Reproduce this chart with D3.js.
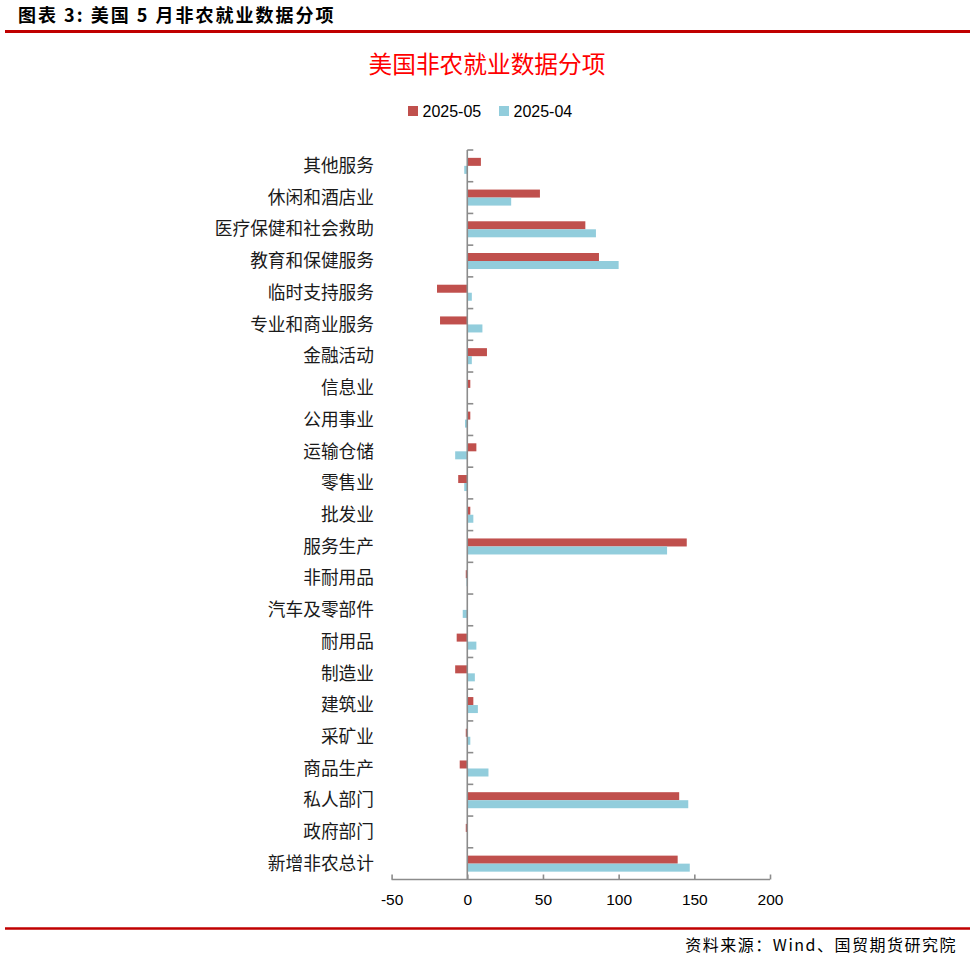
<!DOCTYPE html>
<html>
<head>
<meta charset="utf-8">
<script src="https://cdn.jsdelivr.net/npm/d3@7"></script>
<style>
  html, body { margin: 0; padding: 0; background: #fff; }
  svg { display: block; }
</style>
</head>
<body>
<svg id="chart" width="975" height="957"></svg>
<script>
const categories = ["其他服务","休闲和酒店业","医疗保健和社会救助","教育和保健服务","临时支持服务","专业和商业服务","金融活动","信息业","公用事业","运输仓储","零售业","批发业","服务生产","非耐用品","汽车及零部件","耐用品","制造业","建筑业","采矿业","商品生产","私人部门","政府部门","新增非农总计"];
const seriesNames = ["2025-05","2025-04"];
const may2025 = [9,48,78,87,-20,-18,13,2,2,6,-6,2,145,-1,0,-7,-8,4,-1,-5,140,-1,139];
const apr2025 = [-2,29,85,100,3,10,3,0,-1.5,-8,-2,4,132,-0.5,-3,6,5,7,2,14,146,0.5,147];
const xTicks = [-50,0,50,100,150,200];
const colors = ["#c0504d","#92cddc"];

const svg = d3.select("#chart");
const cjk = "'Noto Sans CJK SC','Noto Sans',sans-serif";
const latin = "'Liberation Sans','Noto Sans CJK SC',sans-serif";

// Header
svg.append("text").attr("x", 18).attr("y", 22)
  .attr("font-family", cjk).attr("font-weight", "bold").attr("font-size", 18)
  .attr("letter-spacing", 2).attr("fill", "#000").text("图表 3: 美国 5 月非农就业数据分项");
svg.append("line").attr("x1", 5).attr("x2", 970).attr("y1", 31.5).attr("y2", 31.5)
  .attr("stroke", "#c00000").attr("stroke-width", 3);

// Chart title
svg.append("text").attr("x", 487).attr("y", 72.5).attr("text-anchor", "middle")
  .attr("font-family", cjk).attr("font-size", 23.7).attr("fill", "#ff0000")
  .text("美国非农就业数据分项");

// Legend
const legendItems = [{x: 408, name: seriesNames[0], c: colors[0]}, {x: 499, name: seriesNames[1], c: colors[1]}];
legendItems.forEach(it => {
  svg.append("rect").attr("x", it.x).attr("y", 106).attr("width", 10).attr("height", 10).attr("fill", it.c);
  svg.append("text").attr("x", it.x + 14.5).attr("y", 116.5)
    .attr("font-family", latin).attr("font-size", 16).attr("fill", "#000").text(it.name);
});

// Scales
const x = d3.scaleLinear().domain([-50, 200]).range([391.6, 770]);
const y = d3.scaleBand().domain(categories).range([150, 879.5]).paddingInner(0).paddingOuter(0);
const y1 = d3.scaleBand().domain(seriesNames).range([0, y.bandwidth()]).paddingInner(0).paddingOuter(0.98);

const data = categories.map((c, i) => ({cat: c, vals: [may2025[i], apr2025[i]]}));

// Bars
const g = svg.append("g");
data.forEach(d => {
  d.vals.forEach((v, k) => {
    g.append("rect")
      .attr("x", x(Math.min(0, v)))
      .attr("width", Math.abs(x(v) - x(0)))
      .attr("y", y(d.cat) + y1(seriesNames[k]))
      .attr("height", y1.bandwidth())
      .attr("fill", colors[k]);
  });
});

const axisColor = "#8c8c8c";

// X axis
const xAxis = d3.axisBottom(x).tickValues(xTicks).tickSize(-5).tickPadding(14).tickFormat(d => String(d));
const gx = svg.append("g").attr("transform", "translate(0,879.5)").call(xAxis);
gx.select(".domain").attr("stroke", axisColor).attr("stroke-width", 1.6).attr("d", `M${x(-50)},0H${x(200)}`);
gx.selectAll(".tick line").attr("stroke", axisColor).attr("stroke-width", 1.6);
gx.selectAll(".tick text").attr("font-family", latin).attr("font-size", 15.5).attr("fill", "#000");

// Y axis line at 0 with boundary ticks
const x0 = x(0);
svg.append("line").attr("x1", x0).attr("x2", x0).attr("y1", 150).attr("y2", 879.5)
  .attr("stroke", axisColor).attr("stroke-width", 1.6);
categories.forEach(c => {
  svg.append("line").attr("x1", x0).attr("x2", x0 + 6).attr("y1", y(c)).attr("y2", y(c))
    .attr("stroke", axisColor).attr("stroke-width", 1.6);
});

// Category labels
categories.forEach(c => {
  svg.append("text").attr("x", 374).attr("y", y(c) + y.bandwidth() / 2)
    .attr("dy", "0.35em").attr("text-anchor", "end")
    .attr("font-family", cjk).attr("font-size", 17.7).attr("fill", "#1a1a1a").text(c);
});

// Footer
svg.append("line").attr("x1", 5).attr("x2", 970).attr("y1", 928.5).attr("y2", 928.5)
  .attr("stroke", "#c00000").attr("stroke-width", 2.5);
svg.append("text").attr("x", 957).attr("y", 950.5).attr("text-anchor", "end")
  .attr("font-family", cjk).attr("font-size", 16).attr("letter-spacing", 1.5).attr("fill", "#000")
  .text("资料来源：Wind、国贸期货研究院");
</script>
</body>
</html>
